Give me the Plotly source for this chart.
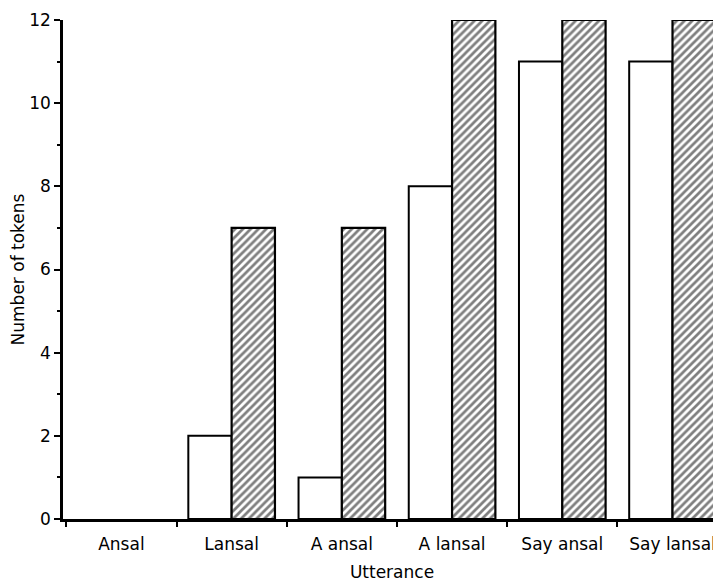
import plotly.graph_objects as go

categories = ["Ansal", "Lansal", "A ansal", "A lansal", "Say ansal", "Say lansal"]
white_values = [0, 2, 1, 8, 11, 11]
hatched_values = [0, 7, 7, 12, 12, 12]
y_ticks = [0, 2, 4, 6, 8, 10, 12]

FONT = "DejaVu Sans"

def nz(vals):
    return [v if v else None for v in vals]

fig = go.Figure()
fig.add_trace(go.Bar(
    x=categories, y=nz(white_values), name="white",
    marker=dict(color="white", line=dict(color="black", width=2)),
))
fig.add_trace(go.Bar(
    x=categories, y=nz(hatched_values), name="hatched",
    marker=dict(color="white", line=dict(color="black", width=2.2),
                pattern=dict(shape="/", fgcolor="black", bgcolor="white",
                             size=5.5, solidity=0.5)),
))

# the page body adds an 8px offset; figure is sized to fill the rest of the window
fig.update_layout(
    width=713, height=574,
    margin=dict(l=55, r=0, t=12, b=63),
    paper_bgcolor="white", plot_bgcolor="white",
    barmode="group", bargap=0.214, bargroupgap=0,
    showlegend=False,
    font=dict(family=FONT, size=17, color="black"),
)
fig.update_xaxes(
    type="category", range=[-0.53, 5.44], automargin=False,
    tickson="boundaries", ticks="outside", ticklen=5, tickwidth=2, tickcolor="black",
    ticklabelstandoff=8,
    showline=True, linewidth=2.5, linecolor="black", showgrid=False, zeroline=False,
    title=dict(text="Utterance", font=dict(size=17), standoff=14),
    tickfont=dict(size=17),
)
fig.update_yaxes(
    range=[0, 12], tickvals=y_ticks, automargin=False, ticklabeloverflow="allow",
    ticks="outside", ticklen=6, tickwidth=2, tickcolor="black",
    minor=dict(dtick=1, ticks="outside", ticklen=3, tickwidth=2, tickcolor="black", showgrid=False),
    showline=True, linewidth=2.5, linecolor="black", showgrid=False, zeroline=False,
    title=dict(text="Number of tokens", font=dict(size=17), standoff=8),
    tickfont=dict(size=17),
)

fig.write_html("out.html")
